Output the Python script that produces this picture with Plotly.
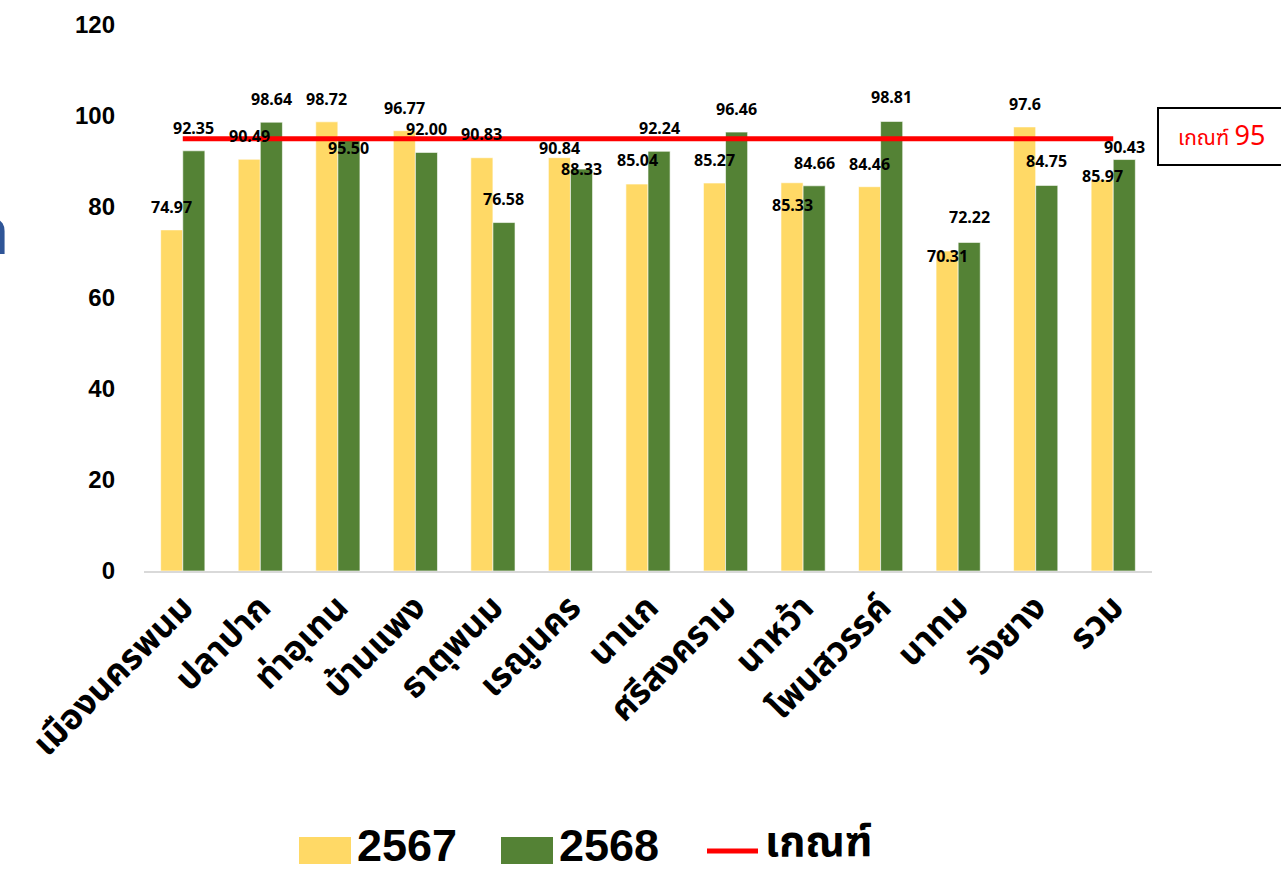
import plotly.graph_objects as go

# ---------------- data ----------------
categories = ["เมืองนครพนม", "ปลาปาก", "ท่าอุเทน", "บ้านแพง", "ธาตุพนม", "เรณูนคร", "นาแก",
              "ศรีสงคราม", "นาหว้า", "โพนสวรรค์", "นาทม", "วังยาง", "รวม"]
values_2567 = [74.97, 90.49, 98.72, 96.77, 90.83, 90.84, 85.04, 85.27, 85.33, 84.46, 70.31, 97.6, 85.97]
values_2568 = [92.35, 98.64, 95.50, 92.00, 76.58, 88.33, 92.24, 96.46, 84.66, 98.81, 72.22, 84.75, 90.43]
labels_2567 = ["74.97", "90.49", "98.72", "96.77", "90.83", "90.84", "85.04", "85.27", "85.33", "84.46",
               "70.31", "97.6", "85.97"]
labels_2568 = ["92.35", "98.64", "95.50", "92.00", "76.58", "88.33", "92.24", "96.46", "84.66", "98.81",
               "72.22", "84.75", "90.43"]
threshold = 95
threshold_values = [threshold] * len(categories)
y_ticks = [0, 20, 40, 60, 80, 100, 120]
series_names = ["2567", "2568", "เกณฑ์"]

# ---------------- style ----------------
YELLOW = "#FFD966"
GREEN = "#548235"
RED = "#FF0000"
W, H = 1281, 874
ML, MR, MT, MB = 144, 129, 25, 303
PW, PH = W - ML - MR, H - MT - MB
THAI = "Noto Sans Thai, Kanit, Prompt, Sarabun, Noto Sans, sans-serif"

# label vertical offsets (px) reproducing the hand-placed data labels
shift_2567 = [23, 23, 23, 23, 24, 10, 24, 23, -22, 23, -5, 23, 4]
shift_2568 = [23, 23, -12, 23, 24, 0, 23, 23, 23, 24, 25, 24, 13]
BAR_HALF = 11


def xp(px):
    return (px - ML) / PW


def yp(py):
    return (H - MB - py) / PH


fig = go.Figure()
fig.add_trace(go.Bar(x=categories, y=values_2567, name=series_names[0],
                     marker=dict(color=YELLOW, line=dict(color="rgba(255,255,255,0.6)", width=1))))
fig.add_trace(go.Bar(x=categories, y=values_2568, name=series_names[1],
                     marker=dict(color=GREEN, line=dict(color="rgba(255,255,255,0.6)", width=1))))
fig.add_trace(go.Scatter(x=categories, y=threshold_values, name=series_names[2], mode="lines",
                         line=dict(color=RED, width=5)))

annotations = []
label_font = dict(family="Noto Sans, sans-serif", size=16, color="#000000")
for i, c in enumerate(categories):
    annotations.append(dict(x=c, y=values_2567[i], text="<b>%s</b>" % labels_2567[i], showarrow=False,
                            xshift=-BAR_HALF, yshift=shift_2567[i], yanchor="middle", font=label_font))
    annotations.append(dict(x=c, y=values_2568[i], text="<b>%s</b>" % labels_2568[i], showarrow=False,
                            xshift=BAR_HALF, yshift=shift_2568[i], yanchor="middle", font=label_font))

# custom legend
leg_font = dict(family="Liberation Sans, Arial, sans-serif", size=45, color="#000000")
shapes = [
    dict(type="rect", xref="paper", yref="paper", x0=xp(299), x1=xp(351), y0=yp(864), y1=yp(837),
         fillcolor=YELLOW, line=dict(width=0)),
    dict(type="rect", xref="paper", yref="paper", x0=xp(501), x1=xp(553), y0=yp(864), y1=yp(837),
         fillcolor=GREEN, line=dict(width=0)),
    dict(type="line", xref="paper", yref="paper", x0=xp(707), x1=xp(758), y0=yp(851), y1=yp(851),
         line=dict(color=RED, width=5)),
    # threshold box (runs off the right edge)
    dict(type="rect", xref="paper", yref="paper", x0=xp(1158), x1=xp(1300), y0=yp(165), y1=yp(108),
         fillcolor="white", line=dict(color="#000000", width=2)),
]
annotations += [
    dict(xref="paper", yref="paper", x=xp(355), y=yp(845), xanchor="left", yanchor="middle",
         text="<b>%s</b>" % series_names[0], showarrow=False, font=leg_font),
    dict(xref="paper", yref="paper", x=xp(557), y=yp(845), xanchor="left", yanchor="middle",
         text="<b>%s</b>" % series_names[1], showarrow=False, font=leg_font),
    dict(xref="paper", yref="paper", x=xp(763), y=yp(843), xanchor="left", yanchor="middle",
         text="<b>%s</b>" % series_names[2], showarrow=False,
         font=dict(family=THAI, size=42, color="#000000")),
    dict(xref="paper", yref="paper", x=xp(1176), y=yp(136), xanchor="left", yanchor="middle",
         text="เกณฑ์ <span style='font-size:27px'>%d</span>" % threshold, showarrow=False,
         font=dict(family=THAI, size=21, color=RED)),
    # cut-off title fragment at the left edge
    dict(xref="paper", yref="paper", x=xp(11), y=yp(234), xanchor="right", yanchor="middle",
         text="<b>ก</b>", showarrow=False,
         font=dict(family=THAI, size=66, color="#2F5597")),
]

fig.update_layout(
    width=W, height=H,
    margin=dict(l=ML, r=MR, t=MT, b=MB, pad=0),
    paper_bgcolor="white", plot_bgcolor="white",
    barmode="group", bargap=0.43, bargroupgap=0,
    showlegend=False,
    shapes=shapes, annotations=annotations,
    xaxis=dict(showline=True, linecolor="#D9D9D9", linewidth=1.5, showgrid=False, ticks="",
               tickangle=-45, tickfont=dict(family=THAI, size=35, color="#000000"),
               tickprefix="<b>", ticksuffix="</b>"),
    yaxis=dict(range=[0, 120], tickvals=y_ticks, ticktext=["<b>%d</b>" % v for v in y_ticks],
               showgrid=False, zeroline=False, showline=False, ticks="", ticklabelstandoff=28,
               tickfont=dict(family="Liberation Sans, Arial, sans-serif", size=24, color="#000000")),
)

fig.write_html("out.html", config={"displayModeBar": False},
               post_script="document.body.style.margin='0';document.body.style.overflow='hidden';")
